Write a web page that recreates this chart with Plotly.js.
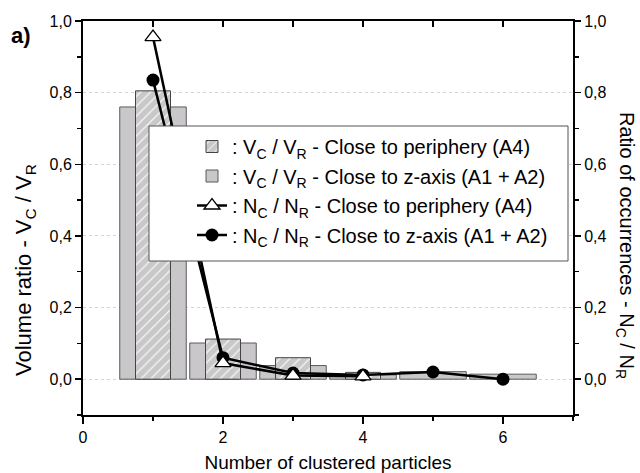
<!DOCTYPE html>
<html>
<head>
<meta charset="utf-8">
<script src="https://cdn.plot.ly/plotly-3.0.1.min.js"></script>
<style>html,body{margin:0;padding:0;background:#fff;}#chart{width:640px;height:473px;}</style>
</head>
<body>
<div id="chart"></div>
<script>
// ---- data ----
var clustersAll = [1, 2, 3, 4, 5, 6];
var clustersPeriphery = [1, 2, 3, 4];
var volPeriphery = [0.805, 0.112, 0.060, 0.019];          // V_C/V_R close to periphery (A4), hatched bars
var volZaxis = [0.760, 0.101, 0.038, 0.012, 0.021, 0.014]; // V_C/V_R close to z-axis (A1+A2), grey bars
var occPeriphery = [0.955, 0.045, 0.010, 0.008];           // N_C/N_R close to periphery (A4), triangles
var occZaxis = [0.835, 0.060, 0.017, 0.012, 0.020, 0.000]; // N_C/N_R close to z-axis (A1+A2), circles

var nameVolPer = ': V<sub>C</sub> / V<sub>R</sub> - Close to periphery (A4)';
var nameVolZ   = ': V<sub>C</sub> / V<sub>R</sub> - Close to z-axis (A1 + A2)';
var nameOccPer = ': N<sub>C</sub> / N<sub>R</sub> - Close to periphery (A4)';
var nameOccZ   = ': N<sub>C</sub> / N<sub>R</sub> - Close to z-axis (A1 + A2)';

var FONT = 'Liberation Sans, Arial, sans-serif';

var traces = [
  {
    type: 'bar', x: clustersAll, y: volZaxis, width: 0.95,
    name: nameVolZ, legendgroup: 'b', legendrank: 2,
    marker: {color: '#c9c7ca', line: {color: '#5a5a5a', width: 1}},
    xaxis: 'x', yaxis: 'y'
  },
  {
    type: 'bar', x: clustersPeriphery, y: volPeriphery, width: 0.5,
    name: nameVolPer, legendgroup: 'a', legendrank: 1,
    marker: {color: '#c8c8c8', line: {color: '#444444', width: 1},
      pattern: {shape: '/', fillmode: 'overlay', fgcolor: '#ffffff', fgopacity: 1, size: 7, solidity: 0.16}},
    xaxis: 'x', yaxis: 'y'
  },
  {
    type: 'scatter', mode: 'lines+markers', x: clustersAll, y: occZaxis,
    name: nameOccZ, legendgroup: 'd', legendrank: 4,
    line: {color: '#000000', width: 2.5},
    marker: {symbol: 'circle', size: 13, color: '#000000'},
    xaxis: 'x2', yaxis: 'y2'
  },
  {
    type: 'scatter', mode: 'lines+markers', x: clustersPeriphery, y: occPeriphery,
    name: nameOccPer, legendgroup: 'c', legendrank: 3,
    line: {color: '#000000', width: 2.5},
    marker: {symbol: 'triangle-up', size: 14, color: '#ffffff', line: {color: '#000000', width: 1.3}},
    xaxis: 'x2', yaxis: 'y2'
  }
];

var L = 83, R = 573, T = 21, B = 415;
function px(v) { return (v - L) / (R - L); }
function py(v) { return (B - v) / (B - T); }

var layout = {
  width: 640, height: 473,
  margin: {l: L, r: 640 - R, t: T, b: 473 - B, pad: 0},
  paper_bgcolor: '#ffffff', plot_bgcolor: '#ffffff',
  font: {family: FONT, color: '#000000', size: 16},
  separators: ',.',
  barmode: 'overlay',
  showlegend: true,
  xaxis: {
    range: [0, 7], tick0: 0, dtick: 2, ticks: 'outside', ticklen: 7, tickwidth: 1.5, tickcolor: '#000',
    minor: {dtick: 1, ticks: 'outside', ticklen: 4, tickwidth: 1.5, tickcolor: '#000', showgrid: false},
    showline: true, linewidth: 2, linecolor: '#000', showgrid: false, zeroline: false,
    tickfont: {size: 16},
    title: {text: 'Number of clustered particles', font: {size: 19}, standoff: 14}
  },
  yaxis: {
    range: [-0.1, 1.0], tick0: 0, dtick: 0.2, tickformat: '.1f', ticks: 'outside', ticklen: 6, tickwidth: 1.5, tickcolor: '#000',
    minor: {dtick: 0.1, tick0: 0, ticks: 'outside', ticklen: 4, tickwidth: 1.5, tickcolor: '#000', showgrid: false},
    showline: true, linewidth: 2, linecolor: '#000', zeroline: false,
    showgrid: true, gridcolor: '#d4d4d4', griddash: 'dot', gridwidth: 1,
    tickfont: {size: 16}
  },
  xaxis2: {
    overlaying: 'x', side: 'top', anchor: 'y2', range: [0, 7], tick0: 0, dtick: 1,
    ticks: 'inside', ticklen: 6, tickwidth: 1.5, tickcolor: '#000',
    showline: true, linewidth: 2, linecolor: '#000', showticklabels: false, showgrid: false, zeroline: false
  },
  yaxis2: {
    overlaying: 'y', side: 'right', anchor: 'x2', range: [-0.1, 1.0], tick0: 0, dtick: 0.2, tickformat: '.1f',
    ticks: 'outside', ticklen: 6, tickwidth: 1.5, tickcolor: '#000',
    minor: {dtick: 0.1, tick0: 0, ticks: 'outside', ticklen: 4, tickwidth: 1.5, tickcolor: '#000', showgrid: false},
    showline: true, linewidth: 2, linecolor: '#000', showgrid: false, zeroline: false,
    tickfont: {size: 16}
  },
  legend: {
    x: px(192), y: py(127), xanchor: 'left', yanchor: 'top', xref: 'paper', yref: 'paper',
    bgcolor: 'rgba(0,0,0,0)', borderwidth: 0,
    font: {family: FONT, size: 20, color: '#000'},
    tracegroupgap: 0.5, traceorder: 'grouped'
  },
  shapes: [
    {type: 'rect', xref: 'paper', yref: 'paper', x0: px(149), x1: px(568), y0: py(261), y1: py(126),
     line: {color: '#555555', width: 1}, fillcolor: '#ffffff', layer: 'above'}
  ],
  annotations: [
    {text: '<b>a)</b>', xref: 'paper', yref: 'paper', x: px(9), y: py(36), xanchor: 'left', yanchor: 'middle',
     showarrow: false, font: {size: 22, family: FONT}},
    {text: 'Volume ratio - V<sub>C</sub> / V<sub>R</sub>', xref: 'paper', yref: 'paper',
     x: px(25), y: py(270), xanchor: 'center', yanchor: 'middle', textangle: -90, showarrow: false,
     font: {size: 22, family: FONT}},
    {text: 'Ratio of occurrences - N<sub>C</sub> / N<sub>R</sub>', xref: 'paper', yref: 'paper',
     x: px(625), y: py(245), xanchor: 'center', yanchor: 'middle', textangle: 90, showarrow: false,
     font: {size: 20, family: FONT}}
  ]
};

Plotly.newPlot('chart', traces, layout, {displayModeBar: false, staticPlot: true});
</script>
</body>
</html>
